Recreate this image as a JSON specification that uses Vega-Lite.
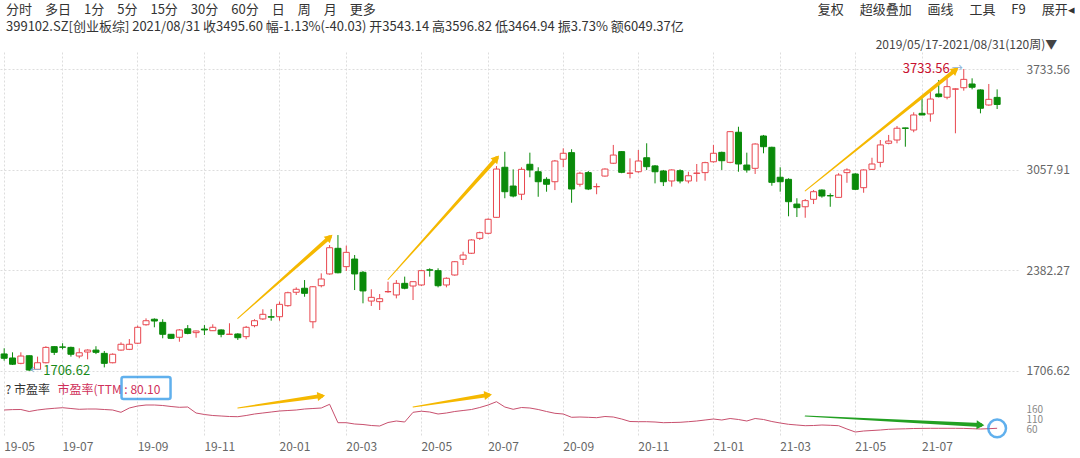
{
  "$schema": "https://vega.github.io/schema/vega-lite/v6.json",
  "background": "white",
  "padding": {"left": 0, "right": 0, "top": 4, "bottom": 0},
  "config": {
    "font": "Noto Sans CJK SC",
    "view": {"stroke": null},
    "axis": {"labelFont": "Noto Sans CJK SC", "titleFont": "Noto Sans CJK SC"}
  },
  "title": {
    "text": "分时　多日　1分　5分　15分　30分　60分　日　周　月　更多　　　　　　　　　　　　　　　　　　　　　　　　　　　　　　　　　　复权　 超级叠加　 画线　 工具　 F9　 展开◂",
    "subtitle": "399102.SZ[创业板综]  2021/08/31  收3495.60  幅-1.13%(-40.03)  开3543.14  高3596.82  低3464.94  振3.73%  额6049.37亿",
    "anchor": "start",
    "dx": 6,
    "fontSize": 13,
    "fontWeight": "normal",
    "color": "#333333",
    "subtitleFontSize": 13,
    "subtitleColor": "#333333",
    "subtitleFont": "Noto Sans CJK SC",
    "subtitlePadding": 4,
    "lineHeight": 16,
    "subtitleLineHeight": 16,
    "offset": 5
  },
  "spacing": -7,
  "datasets": {
    "k": [
      {"d":"2019-05-17","o":1821,"h":1859,"l":1776,"c":1792,"pe":171.5},
      {"d":"2019-05-24","o":1794,"h":1832,"l":1747,"c":1752,"pe":173.5},
      {"d":"2019-05-31","o":1758,"h":1832,"l":1752,"c":1807,"pe":174},
      {"d":"2019-06-07","o":1809,"h":1811,"l":1706.62,"c":1713,"pe":164},
      {"d":"2019-06-14","o":1718,"h":1803,"l":1713,"c":1762,"pe":171.5},
      {"d":"2019-06-21","o":1762,"h":1873,"l":1758,"c":1865,"pe":176.5},
      {"d":"2019-06-28","o":1870,"h":1873,"l":1814,"c":1832,"pe":180},
      {"d":"2019-07-05","o":1868,"h":1893,"l":1852,"c":1866,"pe":183},
      {"d":"2019-07-12","o":1865,"h":1870,"l":1803,"c":1819,"pe":179},
      {"d":"2019-07-19","o":1807,"h":1859,"l":1792,"c":1829,"pe":175},
      {"d":"2019-07-26","o":1834,"h":1852,"l":1785,"c":1847,"pe":176.5},
      {"d":"2019-08-02","o":1847,"h":1873,"l":1820,"c":1832,"pe":176.5},
      {"d":"2019-08-09","o":1825,"h":1841,"l":1731,"c":1758,"pe":174},
      {"d":"2019-08-16","o":1762,"h":1825,"l":1758,"c":1819,"pe":171.5},
      {"d":"2019-08-23","o":1847,"h":1899,"l":1843,"c":1886,"pe":160},
      {"d":"2019-08-30","o":1852,"h":1921,"l":1847,"c":1886,"pe":181.5},
      {"d":"2019-09-06","o":1893,"h":2011,"l":1888,"c":2000,"pe":191.5},
      {"d":"2019-09-13","o":2017,"h":2060,"l":2011,"c":2044,"pe":196.5},
      {"d":"2019-09-20","o":2054,"h":2060,"l":2000,"c":2042,"pe":196.5},
      {"d":"2019-09-27","o":2033,"h":2054,"l":1926,"c":1953,"pe":194},
      {"d":"2019-09-30","o":1953,"h":1955,"l":1921,"c":1926,"pe":189},
      {"d":"2019-10-11","o":1933,"h":1988,"l":1903,"c":1982,"pe":185},
      {"d":"2019-10-18","o":1990,"h":2015,"l":1953,"c":1959,"pe":186.5},
      {"d":"2019-10-25","o":1964,"h":1977,"l":1930,"c":1975,"pe":156.5},
      {"d":"2019-11-01","o":1988,"h":2015,"l":1948,"c":1982,"pe":149},
      {"d":"2019-11-08","o":1977,"h":2020,"l":1975,"c":2000,"pe":144},
      {"d":"2019-11-15","o":1982,"h":1986,"l":1933,"c":1953,"pe":141.5},
      {"d":"2019-11-22","o":1952,"h":2027,"l":1951,"c":1954,"pe":139},
      {"d":"2019-11-29","o":1955,"h":1960,"l":1915,"c":1930,"pe":138},
      {"d":"2019-12-06","o":1937,"h":2009,"l":1920,"c":2000,"pe":144},
      {"d":"2019-12-13","o":2011,"h":2054,"l":2000,"c":2044,"pe":151.5},
      {"d":"2019-12-20","o":2056,"h":2121,"l":2049,"c":2087,"pe":156.5},
      {"d":"2019-12-27","o":2071,"h":2122,"l":2044,"c":2068,"pe":161.5},
      {"d":"2020-01-03","o":2071,"h":2172,"l":2044,"c":2154,"pe":166.5},
      {"d":"2020-01-10","o":2145,"h":2239,"l":2138,"c":2232,"pe":169},
      {"d":"2020-01-17","o":2235,"h":2268,"l":2217,"c":2255,"pe":171.5},
      {"d":"2020-01-23","o":2262,"h":2317,"l":2205,"c":2228,"pe":176.5},
      {"d":"2020-02-07","o":2037,"h":2277,"l":1993,"c":2272,"pe":179},
      {"d":"2020-02-14","o":2279,"h":2362,"l":2268,"c":2324,"pe":181.5},
      {"d":"2020-02-21","o":2358,"h":2552,"l":2353,"c":2534,"pe":200},
      {"d":"2020-02-28","o":2530,"h":2619,"l":2362,"c":2366,"pe":108},
      {"d":"2020-03-06","o":2407,"h":2548,"l":2378,"c":2503,"pe":108},
      {"d":"2020-03-13","o":2458,"h":2485,"l":2250,"c":2358,"pe":101.5},
      {"d":"2020-03-20","o":2369,"h":2378,"l":2161,"c":2244,"pe":99},
      {"d":"2020-03-27","o":2176,"h":2255,"l":2143,"c":2201,"pe":94},
      {"d":"2020-04-03","o":2172,"h":2223,"l":2116,"c":2192,"pe":91.5},
      {"d":"2020-04-10","o":2238,"h":2306,"l":2232,"c":2240,"pe":109},
      {"d":"2020-04-17","o":2217,"h":2317,"l":2194,"c":2295,"pe":116.5},
      {"d":"2020-04-24","o":2295,"h":2340,"l":2255,"c":2262,"pe":111.5},
      {"d":"2020-04-30","o":2277,"h":2308,"l":2183,"c":2306,"pe":160},
      {"d":"2020-05-08","o":2284,"h":2385,"l":2277,"c":2380,"pe":165.5},
      {"d":"2020-05-15","o":2386,"h":2396,"l":2340,"c":2383,"pe":161.5},
      {"d":"2020-05-22","o":2380,"h":2396,"l":2268,"c":2279,"pe":151.5},
      {"d":"2020-05-29","o":2284,"h":2335,"l":2268,"c":2329,"pe":156.5},
      {"d":"2020-06-05","o":2351,"h":2445,"l":2346,"c":2440,"pe":164},
      {"d":"2020-06-12","o":2456,"h":2507,"l":2418,"c":2485,"pe":169},
      {"d":"2020-06-19","o":2497,"h":2591,"l":2492,"c":2586,"pe":174},
      {"d":"2020-06-24","o":2597,"h":2642,"l":2586,"c":2635,"pe":184},
      {"d":"2020-07-03","o":2631,"h":2731,"l":2624,"c":2725,"pe":196.5},
      {"d":"2020-07-10","o":2738,"h":3082,"l":2734,"c":3062,"pe":213},
      {"d":"2020-07-17","o":3074,"h":3178,"l":2866,"c":2910,"pe":186.5},
      {"d":"2020-07-24","o":2948,"h":3060,"l":2872,"c":2881,"pe":175},
      {"d":"2020-07-31","o":2893,"h":3074,"l":2854,"c":3060,"pe":184},
      {"d":"2020-08-07","o":3094,"h":3172,"l":3007,"c":3056,"pe":181.5},
      {"d":"2020-08-14","o":3044,"h":3074,"l":2876,"c":2977,"pe":174},
      {"d":"2020-08-21","o":2993,"h":3007,"l":2910,"c":2960,"pe":164},
      {"d":"2020-08-28","o":2977,"h":3123,"l":2921,"c":3116,"pe":155},
      {"d":"2020-09-04","o":3128,"h":3201,"l":3074,"c":3168,"pe":151.5},
      {"d":"2020-09-11","o":3172,"h":3195,"l":2836,"c":2928,"pe":135},
      {"d":"2020-09-18","o":2960,"h":3044,"l":2944,"c":3034,"pe":136.5},
      {"d":"2020-09-25","o":3038,"h":3049,"l":2921,"c":2928,"pe":135},
      {"d":"2020-09-30","o":2943,"h":2966,"l":2893,"c":2945,"pe":133},
      {"d":"2020-10-09","o":3015,"h":3067,"l":3011,"c":3062,"pe":139},
      {"d":"2020-10-16","o":3101,"h":3224,"l":3096,"c":3156,"pe":136.5},
      {"d":"2020-10-23","o":3179,"h":3183,"l":3034,"c":3040,"pe":126.5},
      {"d":"2020-10-30","o":3033,"h":3134,"l":3000,"c":3035,"pe":114},
      {"d":"2020-11-06","o":3044,"h":3190,"l":3037,"c":3116,"pe":113},
      {"d":"2020-11-13","o":3138,"h":3235,"l":3056,"c":3078,"pe":113},
      {"d":"2020-11-20","o":3083,"h":3089,"l":2966,"c":3044,"pe":111.5},
      {"d":"2020-11-27","o":3049,"h":3056,"l":2948,"c":2977,"pe":108},
      {"d":"2020-12-04","o":2982,"h":3060,"l":2944,"c":3056,"pe":109},
      {"d":"2020-12-11","o":3051,"h":3060,"l":2966,"c":2982,"pe":110},
      {"d":"2020-12-18","o":2982,"h":3044,"l":2966,"c":3017,"pe":113},
      {"d":"2020-12-25","o":3033,"h":3096,"l":2977,"c":3035,"pe":116.5},
      {"d":"2020-12-31","o":3038,"h":3111,"l":2984,"c":3105,"pe":121.5},
      {"d":"2021-01-08","o":3111,"h":3224,"l":3105,"c":3168,"pe":126.5},
      {"d":"2021-01-15","o":3174,"h":3179,"l":3056,"c":3118,"pe":121.5},
      {"d":"2021-01-22","o":3107,"h":3317,"l":3101,"c":3313,"pe":129},
      {"d":"2021-01-29","o":3309,"h":3346,"l":3044,"c":3096,"pe":124},
      {"d":"2021-02-05","o":3089,"h":3172,"l":3038,"c":3056,"pe":116.5},
      {"d":"2021-02-10","o":3067,"h":3235,"l":3029,"c":3230,"pe":129},
      {"d":"2021-02-19","o":3284,"h":3291,"l":3168,"c":3212,"pe":124},
      {"d":"2021-02-26","o":3208,"h":3212,"l":2950,"c":2973,"pe":114},
      {"d":"2021-03-05","o":3007,"h":3074,"l":2910,"c":2977,"pe":106.5},
      {"d":"2021-03-12","o":2993,"h":3000,"l":2745,"c":2843,"pe":100},
      {"d":"2021-03-19","o":2827,"h":2866,"l":2740,"c":2803,"pe":96.5},
      {"d":"2021-03-26","o":2809,"h":2861,"l":2735,"c":2850,"pe":93},
      {"d":"2021-04-02","o":2859,"h":2921,"l":2827,"c":2910,"pe":94},
      {"d":"2021-04-09","o":2921,"h":2926,"l":2870,"c":2881,"pe":96.5},
      {"d":"2021-04-16","o":2884,"h":2899,"l":2809,"c":2882,"pe":95},
      {"d":"2021-04-23","o":2872,"h":3034,"l":2870,"c":3022,"pe":93},
      {"d":"2021-04-30","o":3038,"h":3067,"l":2970,"c":3056,"pe":76.5},
      {"d":"2021-05-07","o":3029,"h":3034,"l":2921,"c":2926,"pe":61.5},
      {"d":"2021-05-14","o":2937,"h":3060,"l":2903,"c":3056,"pe":66.5},
      {"d":"2021-05-21","o":3060,"h":3138,"l":3056,"c":3096,"pe":69},
      {"d":"2021-05-28","o":3107,"h":3257,"l":3074,"c":3224,"pe":71.5},
      {"d":"2021-06-04","o":3235,"h":3291,"l":3228,"c":3250,"pe":75},
      {"d":"2021-06-11","o":3257,"h":3351,"l":3235,"c":3336,"pe":76.5},
      {"d":"2021-06-18","o":3338,"h":3340,"l":3212,"c":3335,"pe":77.5},
      {"d":"2021-06-25","o":3324,"h":3443,"l":3309,"c":3425,"pe":79},
      {"d":"2021-07-02","o":3436,"h":3537,"l":3424,"c":3425,"pe":79.5},
      {"d":"2021-07-09","o":3432,"h":3581,"l":3380,"c":3532,"pe":80},
      {"d":"2021-07-16","o":3566,"h":3660,"l":3543,"c":3548,"pe":80},
      {"d":"2021-07-23","o":3544,"h":3671,"l":3530,"c":3615,"pe":80},
      {"d":"2021-07-30","o":3598,"h":3604,"l":3302,"c":3600,"pe":80},
      {"d":"2021-08-06","o":3608,"h":3733.56,"l":3588,"c":3664,"pe":79.5},
      {"d":"2021-08-13","o":3633,"h":3671,"l":3597,"c":3611,"pe":78},
      {"d":"2021-08-20","o":3593,"h":3597,"l":3436,"c":3470,"pe":76.5},
      {"d":"2021-08-27","o":3492,"h":3633,"l":3487,"c":3530,"pe":78},
      {"d":"2021-08-31","o":3543.14,"h":3596.82,"l":3464.94,"c":3495.6,"pe":80.1}
    ],
    "parrows": [
      {"a":"p1","pt":"s","d":"2019-11-29","v":2060},
      {"a":"p1","pt":"e","d":"2020-02-21","v":2604},
      {"a":"p2","pt":"s","d":"2020-04-10","v":2321},
      {"a":"p2","pt":"e","d":"2020-07-10","v":3134},
      {"a":"p3","pt":"s","d":"2021-03-26","v":2915},
      {"a":"p3","pt":"e","d":"2021-07-30","v":3727}
    ],
    "earrows": [
      {"a":"q1","pt":"s","d":"2019-11-29","v":181.5},
      {"a":"q1","pt":"e","d":"2020-02-14","v":241.5},
      {"a":"q2","pt":"s","d":"2020-04-30","v":186.5},
      {"a":"q2","pt":"e","d":"2020-07-03","v":246.5},
      {"a":"g","pt":"s","d":"2021-03-26","v":141.5},
      {"a":"g","pt":"e","d":"2021-08-20","v":96.5}
    ],
    "ext": [
      {"d":"2021-08-06","v":3733.56,"t":"3733.56","k":"max"},
      {"d":"2019-06-07","v":1706.62,"t":"1706.62","k":"min"}
    ],
    "marks": [
      {"d":"2021-08-31","v":80.1,"k":"circle"},
      {"d":"2019-09-13","v":281.5,"k":"box"}
    ]
  },
  "vconcat": [
    {
      "width": 1018,
      "height": 326,
      "title": {"text": "2019/05/17-2021/08/31(120周)▼", "anchor": "end", "dx": -12, "fontSize": 12, "fontWeight": "normal", "color": "#444444", "offset": 0},
      "layer": [
        {
          "data": {"name": "k"},
          "mark": {"type": "rule", "strokeWidth": 1},
          "encoding": {
            "x": {"field": "d", "type": "ordinal",
              "scale": {"type": "band", "paddingInner": 0, "paddingOuter": 1.25, "align": 0},
              "axis": {"orient": "bottom", "labels": false, "ticks": false, "domain": false, "title": null, "grid": true, "gridDash": [2, 2], "gridColor": "#dddddd", "minExtent": 0, "maxExtent": 0, "offset": 0,
                "values": ["2019-05-17","2019-07-05","2019-09-06","2019-11-01","2020-01-03","2020-03-06","2020-05-08","2020-07-03","2020-09-04","2020-11-06","2021-01-08","2021-03-05","2021-05-07","2021-07-02"]}},
            "y": {"field": "l", "type": "quantitative",
              "scale": {"domain": [1659.6, 3847.7], "zero": false, "nice": false},
              "axis": {"orient": "right", "title": null, "values": [1706.62, 2382.27, 3057.91, 3733.56], "format": ".2f", "labelFontSize": 12, "labelColor": "#666666", "labelPadding": 8, "ticks": false, "domain": false, "grid": true, "gridDash": [2, 2], "gridColor": "#dddddd"}},
            "y2": {"field": "h"},
            "color": {"condition": {"test": "datum.c < datum.o", "value": "#0a8a0a"}, "value": "#e8474f"}
          }
        },
        {
          "data": {"name": "k"},
          "mark": {"type": "bar", "width": {"band": 0.72}, "strokeWidth": 1},
          "encoding": {
            "x": {"field": "d", "type": "ordinal"},
            "y": {"field": "o", "type": "quantitative"},
            "y2": {"field": "c"},
            "fill": {"condition": {"test": "datum.c < datum.o", "value": "#0a8a0a"}, "value": "#ffffff"},
            "stroke": {"condition": {"test": "datum.c < datum.o", "value": "#0a8a0a"}, "value": "#e8474f"}
          }
        },
        {
          "data": {"name": "parrows"},
          "mark": {"type": "trail", "color": "#f5b800"},
          "encoding": {
            "x": {"field": "d", "type": "ordinal"},
            "y": {"field": "v", "type": "quantitative"},
            "detail": {"field": "a"},
            "size": {"field": "pt", "type": "ordinal", "scale": {"domain": ["s", "e"], "range": [1, 4]}, "legend": null}
          }
        },
        {
          "data": {"name": "parrows"},
          "transform": [{"filter": "datum.pt == 'e'"}],
          "mark": {"type": "point", "shape": "triangle-right", "filled": true, "size": 80, "color": "#f5b800", "opacity": 1},
          "encoding": {
            "x": {"field": "d", "type": "ordinal"},
            "y": {"field": "v", "type": "quantitative"},
            "angle": {"condition": [{"test": "datum.a == 'p1'", "value": -43}, {"test": "datum.a == 'p2'", "value": -48}], "value": -39}
          }
        },
        {
          "data": {"name": "ext"},
          "transform": [{"filter": "datum.k == 'max'"}],
          "mark": {"type": "text", "align": "right", "baseline": "middle", "dx": -14, "fontSize": 13, "color": "#c8102e"},
          "encoding": {
            "x": {"field": "d", "type": "ordinal"},
            "y": {"field": "v", "type": "quantitative"},
            "text": {"field": "t"}
          }
        },
        {
          "data": {"name": "ext"},
          "transform": [{"filter": "datum.k == 'max'"}],
          "mark": {"type": "text", "align": "right", "baseline": "middle", "dx": -1, "fontSize": 11, "color": "#8fb4d8", "text": "→"},
          "encoding": {
            "x": {"field": "d", "type": "ordinal"},
            "y": {"field": "v", "type": "quantitative"}
          }
        },
        {
          "data": {"name": "ext"},
          "transform": [{"filter": "datum.k == 'min'"}],
          "mark": {"type": "text", "align": "left", "baseline": "middle", "dx": 14, "fontSize": 13, "color": "#1a8a1a"},
          "encoding": {
            "x": {"field": "d", "type": "ordinal"},
            "y": {"field": "v", "type": "quantitative"},
            "text": {"field": "t"}
          }
        },
        {
          "data": {"name": "ext"},
          "transform": [{"filter": "datum.k == 'min'"}],
          "mark": {"type": "text", "align": "left", "baseline": "middle", "dx": 1, "fontSize": 11, "color": "#8fb4d8", "text": "←"},
          "encoding": {
            "x": {"field": "d", "type": "ordinal"},
            "y": {"field": "v", "type": "quantitative"}
          }
        }
      ]
    },
    {
      "width": 1018,
      "height": 56,
      "layer": [
        {
          "data": {"name": "k"},
          "mark": {"type": "line", "color": "#c8506e", "strokeWidth": 1},
          "encoding": {
            "x": {"field": "d", "type": "ordinal",
              "scale": {"type": "band", "paddingInner": 0, "paddingOuter": 1.25, "align": 0},
              "axis": {"orient": "bottom", "labelExpr": "substring(datum.value, 2, 7)", "labelAlign": "left", "labelFontSize": 12, "labelColor": "#666666", "labelPadding": 4, "labelAngle": 0, "ticks": false, "domain": false, "grid": true, "gridDash": [2, 2], "gridColor": "#dddddd",
                "values": ["2019-05-17","2019-07-05","2019-09-06","2019-11-01","2020-01-03","2020-03-06","2020-05-08","2020-07-03","2020-09-04","2020-11-06","2021-01-08","2021-03-05","2021-05-07","2021-07-02"],
                "title": "? 市盈率", "titleX": 5, "titleY": -48, "titleAlign": "left", "titleBaseline": "middle", "titleFontSize": 12, "titleFontWeight": "normal", "titleColor": "#333333"}},
            "y": {"field": "pe", "type": "quantitative",
              "scale": {"domain": [36.5, 316.5], "zero": false, "nice": false},
              "axis": {"orient": "right", "values": [160], "labelExpr": "['160', '110', '60']", "labelLineHeight": 10, "labelBaseline": "alphabetic", "labelBound": false, "labelFontSize": 10, "labelColor": "#888888", "labelPadding": 8, "ticks": false, "domain": false, "grid": false,
                "title": "市盈率(TTM : 80.10", "titleAngle": 0, "titleX": -961, "titleY": 8, "titleAlign": "left", "titleBaseline": "middle", "titleFontSize": 12, "titleFontWeight": "normal", "titleColor": "#d0305a"}}
          }
        },
        {
          "data": {"name": "earrows"},
          "mark": {"type": "trail"},
          "encoding": {
            "x": {"field": "d", "type": "ordinal"},
            "y": {"field": "v", "type": "quantitative"},
            "detail": {"field": "a"},
            "color": {"condition": {"test": "datum.a == 'g'", "value": "#22a022"}, "value": "#f5b800"},
            "size": {"field": "pt", "type": "ordinal", "scale": {"domain": ["s", "e"], "range": [1, 4]}, "legend": null}
          }
        },
        {
          "data": {"name": "earrows"},
          "transform": [{"filter": "datum.pt == 'e'"}],
          "mark": {"type": "point", "shape": "triangle-right", "filled": true, "size": 80, "opacity": 1},
          "encoding": {
            "x": {"field": "d", "type": "ordinal"},
            "y": {"field": "v", "type": "quantitative"},
            "color": {"condition": {"test": "datum.a == 'g'", "value": "#22a022"}, "value": "#f5b800"},
            "angle": {"condition": {"test": "datum.a == 'g'", "value": 3}, "value": -8}
          }
        },
        {
          "data": {"name": "marks"},
          "transform": [{"filter": "datum.k == 'circle'"}],
          "mark": {"type": "point", "shape": "circle", "size": 314, "filled": false, "stroke": "#1e8fe6", "strokeWidth": 2.5},
          "encoding": {
            "x": {"field": "d", "type": "ordinal"},
            "y": {"field": "v", "type": "quantitative"}
          }
        },
        {
          "data": {"name": "marks"},
          "transform": [{"filter": "datum.k == 'box'"}],
          "mark": {"type": "point", "shape": "M -0.92,-0.45 L 0.92,-0.45 Q 1,-0.45 1,-0.37 L 1,0.37 Q 1,0.45 0.92,0.45 L -0.92,0.45 Q -1,0.45 -1,0.37 L -1,-0.37 Q -1,-0.45 -0.92,-0.45 Z", "size": 2401, "filled": false, "stroke": "#1e8fe6", "strokeWidth": 2.5},
          "encoding": {
            "x": {"field": "d", "type": "ordinal"},
            "y": {"field": "v", "type": "quantitative"}
          }
        }
      ]
    }
  ]
}
